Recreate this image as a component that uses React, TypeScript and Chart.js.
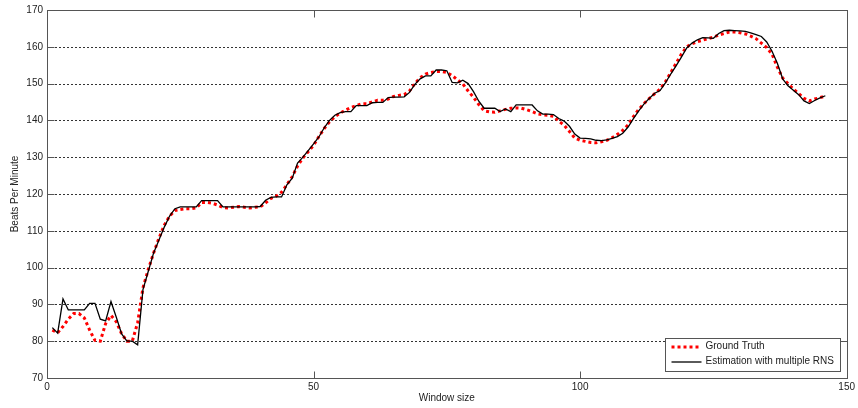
import React, { useEffect, useRef } from "react";
import { Chart, registerables } from "chart.js";

Chart.register(...registerables);

const groundTruth = [
  83.0, 82.3, 84.0, 86.0, 87.5, 87.5, 86.3, 83.0, 80.2, 80.0,
  84.8, 87.0, 85.3, 82.0, 80.0, 80.0, 85.0, 94.5, 99.5, 104.0,
  108.0, 111.5, 114.0, 115.5, 115.8, 116.0, 116.0, 116.2, 117.7, 117.7,
  117.5, 117.0, 116.3, 116.2, 116.4, 116.6, 116.4, 116.2, 116.4, 116.5,
  117.6, 118.8, 119.4, 120.5, 122.5, 124.7, 127.6, 129.8, 131.5, 133.2,
  135.6, 137.8, 139.6, 141.0, 142.0, 142.8, 143.5, 144.0, 144.5, 144.5,
  145.0, 145.5, 145.5, 145.8, 146.5, 146.8, 147.0, 148.0, 150.0, 151.6,
  152.6, 153.0, 153.3, 153.3, 153.0, 152.2, 151.0, 149.9, 148.0, 146.3,
  144.3, 142.6, 142.3, 142.2, 142.6, 143.0, 143.3, 143.4, 143.3, 142.9,
  142.4, 141.8, 141.5, 141.4, 141.1, 139.8, 138.7, 137.0, 135.2, 134.6,
  134.3, 134.0, 133.9, 134.2, 134.6, 135.3, 136.2, 137.3, 138.8, 141.0,
  143.0, 144.6, 146.0, 147.3, 148.5, 150.5, 153.0, 155.5, 158.0, 160.0,
  160.8, 161.4, 161.8, 162.2, 162.6, 163.2, 163.6, 164.0, 164.0, 163.8,
  163.5, 162.9, 162.2, 161.0, 159.8, 158.0, 154.5, 151.5, 150.0, 148.5,
  147.3, 146.0, 145.3, 145.8, 146.2, 146.6,
];

const estimation = [
  83.7, 82.2, 91.5, 88.5, 88.5, 88.5, 88.5, 90.3, 90.3, 86.0,
  85.5, 90.8, 86.5, 82.0, 80.0, 80.0, 79.0, 94.0, 99.0, 104.0,
  107.5, 111.0, 114.0, 116.0, 116.5, 116.5, 116.5, 116.5, 118.2, 118.2,
  118.2, 118.2, 116.5, 116.5, 116.5, 116.5, 116.5, 116.5, 116.5, 116.6,
  118.3, 119.1, 119.2, 119.2, 122.5, 124.3, 128.4, 130.0, 131.8, 133.6,
  135.5, 138.0, 140.0, 141.4, 142.1, 142.4, 142.4, 144.0, 144.0, 144.0,
  144.8, 144.9, 144.9, 146.2, 146.3, 146.3, 146.4, 147.6, 149.8, 151.3,
  152.1, 152.1, 153.7, 153.7, 153.5, 150.3, 150.2, 150.9, 150.0, 147.8,
  145.2, 143.3, 143.3, 143.3, 142.4, 143.1, 142.4, 144.2, 144.2, 144.2,
  144.2, 142.6, 141.7, 141.7, 141.6, 140.5, 139.8, 138.4, 136.3, 135.2,
  135.1, 135.0, 134.6, 134.5, 134.7, 135.1, 135.6, 136.5, 138.2, 140.5,
  142.6, 144.5, 146.0, 147.4, 148.1, 150.2, 152.6, 154.8, 157.2, 159.7,
  161.0, 161.9, 162.5, 162.4, 162.3, 163.6, 164.4, 164.5, 164.4, 164.3,
  164.2, 163.8, 163.3, 162.8, 161.3, 158.8, 155.5, 151.3, 149.4, 148.2,
  147.0, 145.3, 144.6, 145.4, 146.1, 146.7,
];

const windowSizes = groundTruth.map((_, i) => i + 1);

const xTicks = [0, 50, 100, 150];
const yTicks = [70, 80, 90, 100, 110, 120, 130, 140, 150, 160, 170];

const seriesNames = ["Ground Truth", "Estimation with multiple RNS"];

const FONT = "Liberation Sans, Arial, sans-serif";

const framePlugin = {
  id: "matlabFrame",
  beforeDatasetsDraw(chart: any) {
    const { ctx, chartArea: a, scales } = chart;
    const y = scales.y;
    ctx.save();
    ctx.strokeStyle = "#333";
    ctx.lineWidth = 1;
    ctx.setLineDash([2, 2]);
    for (const v of yTicks) {
      if (v === 70 || v === 170) continue;
      const py = Math.round(y.getPixelForValue(v)) + 0.5;
      ctx.beginPath();
      ctx.moveTo(a.left, py);
      ctx.lineTo(a.right, py);
      ctx.stroke();
    }
    ctx.restore();
  },
  afterDatasetsDraw(chart: any) {
    const { ctx, chartArea: a, scales } = chart;
    const x = scales.x;
    const y = scales.y;
    ctx.save();
    ctx.strokeStyle = "#555";
    ctx.lineWidth = 1;
    ctx.setLineDash([]);
    const l = Math.round(a.left) + 0.5;
    const r = Math.round(a.right) + 0.5;
    const t = Math.round(a.top) + 0.5;
    const b = Math.round(a.bottom) + 0.5;
    ctx.strokeRect(l, t, r - l, b - t);
    const tl = 7;
    ctx.beginPath();
    for (const v of xTicks) {
      const px = Math.round(x.getPixelForValue(v)) + 0.5;
      ctx.moveTo(px, b);
      ctx.lineTo(px, b - tl);
      ctx.moveTo(px, t);
      ctx.lineTo(px, t + tl);
    }
    for (const v of yTicks) {
      const py = Math.round(y.getPixelForValue(v)) + 0.5;
      ctx.moveTo(l, py);
      ctx.lineTo(l + tl, py);
      ctx.moveTo(r, py);
      ctx.lineTo(r - tl, py);
    }
    ctx.stroke();

    // legend
    const ds = chart.data.datasets;
    const bx = Math.round(a.right) - 182 + 0.5;
    const by = Math.round(a.bottom) - 40 + 0.5;
    const bw = 175;
    const bh = 33;
    ctx.fillStyle = "#fff";
    ctx.fillRect(bx, by, bw, bh);
    ctx.strokeStyle = "#555";
    ctx.strokeRect(bx, by, bw, bh);
    ctx.font = `10px ${FONT}`;
    ctx.textBaseline = "middle";
    ctx.textAlign = "left";
    const rows = [by + 8, by + 23];
    for (let i = 0; i < 2; i++) {
      const d = ds[i];
      ctx.save();
      ctx.strokeStyle = d.borderColor;
      ctx.lineWidth = d.borderWidth;
      ctx.setLineDash(d.borderDash || []);
      ctx.beginPath();
      const yy = Math.round(rows[i]);
      ctx.moveTo(bx + 6, yy);
      ctx.lineTo(bx + 36, yy);
      ctx.stroke();
      ctx.restore();
      ctx.fillStyle = "#222";
      ctx.fillText(d.label, bx + 40, rows[i]);
    }
    ctx.restore();
  },
};

export default function App() {
  const ref = useRef<HTMLCanvasElement | null>(null);
  useEffect(() => {
    document.body.style.margin = "0";
    const canvas = ref.current;
    if (!canvas) return;
    const chart = new Chart(canvas, {
      type: "line",
      data: {
        datasets: [
          {
            label: seriesNames[0],
            data: windowSizes.map((w, i) => ({ x: w, y: groundTruth[i] })),
            borderColor: "#ff0000",
            borderWidth: 3,
            borderDash: [3, 3],
            pointRadius: 0,
            tension: 0,
            fill: false,
            order: 2,
          },
          {
            label: seriesNames[1],
            data: windowSizes.map((w, i) => ({ x: w, y: estimation[i] })),
            borderColor: "#000000",
            borderWidth: 1.3,
            pointRadius: 0,
            tension: 0,
            fill: false,
            order: 1,
          },
        ],
      },
      plugins: [framePlugin],
      options: {
        animation: false,
        responsive: false,
        maintainAspectRatio: false,
        layout: { padding: { top: 9, right: 8, left: 0, bottom: 0 } },
        plugins: {
          legend: { display: false },
          tooltip: { enabled: false },
        },
        scales: {
          x: {
            type: "linear",
            min: 0,
            max: 150,
            afterBuildTicks: (s: any) => {
              s.ticks = xTicks.map((v) => ({ value: v }));
            },
            afterFit: (s: any) => {
              s.height = 30;
            },
            grid: { display: false, drawTicks: false },
            border: { display: false },
            ticks: {
              padding: 3,
              color: "#222",
              font: { family: FONT, size: 10 },
              maxRotation: 0,
            },
            title: {
              display: true,
              text: "Window size",
              color: "#222",
              font: { family: FONT, size: 10 },
              padding: { top: 0, bottom: 4 },
            },
          },
          y: {
            type: "linear",
            min: 70,
            max: 170,
            afterBuildTicks: (s: any) => {
              s.ticks = yTicks.map((v) => ({ value: v }));
            },
            afterFit: (s: any) => {
              s.width = 47;
            },
            grid: { display: false, drawTicks: false },
            border: { display: false },
            ticks: {
              padding: 4,
              color: "#222",
              font: { family: FONT, size: 10 },
            },
            title: {
              display: true,
              text: "Beats Per Minute",
              color: "#222",
              font: { family: FONT, size: 10 },
              padding: { top: 9, bottom: 0 },
            },
          },
        },
      },
    } as any);
    return () => chart.destroy();
  }, []);
  return (
    <div style={{ position: "absolute", left: 0, top: 0, width: 858, height: 408 }}>
      <canvas ref={ref} width={858} height={408} style={{ width: 858, height: 408, display: "block" }} />
    </div>
  );
}
